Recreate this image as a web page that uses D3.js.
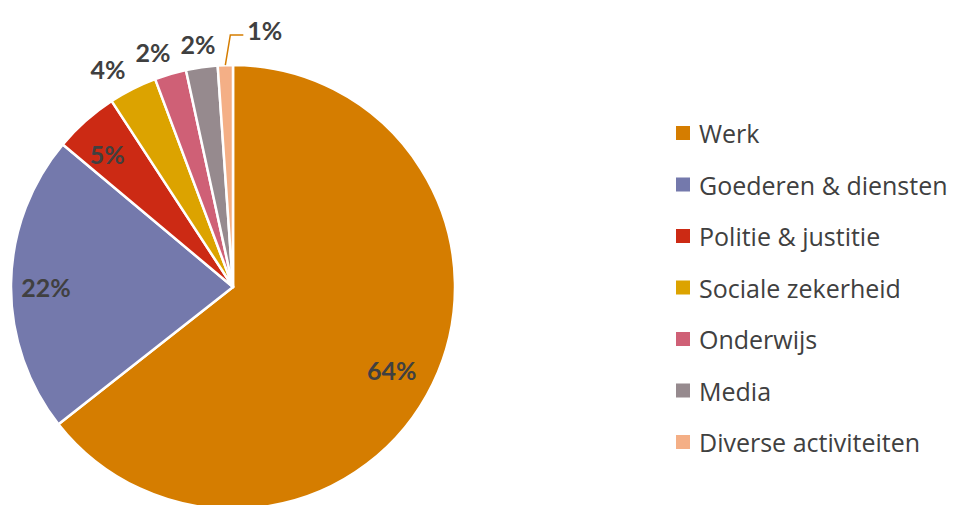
<!DOCTYPE html>
<html><head><meta charset="utf-8">
<script src="https://cdn.jsdelivr.net/npm/d3@7"></script>
<style>body{margin:0;background:#fff;} svg{display:block;} text{font-variant-ligatures:none;}</style>
</head><body>
<svg id="chart" width="956" height="505"></svg>
<script>
const categories = ["Werk","Goederen & diensten","Politie & justitie","Sociale zekerheid","Onderwijs","Media","Diverse activiteiten"];
const values = [64.4, 21.7, 4.7, 3.5, 2.3, 2.3, 1.1];
const labels = ["64%","22%","5%","4%","2%","2%","1%"];
const colors = ["#D57D00","#7479AC","#CC2A14","#DCA300","#CF6076","#968A8E","#F4AF86"];

const svg = d3.select("#chart");
const cx = 233, cy = 287, R = 222;
const g = svg.append("g").attr("transform", `translate(${cx},${cy})`);

const pie = d3.pie().sort(null).value(d => d)(values);
const arc = d3.arc().innerRadius(0).outerRadius(R);

g.selectAll("path.slice").data(pie).enter().append("path")
  .attr("class","slice")
  .attr("d", arc)
  .attr("fill", (d,i) => colors[i])
  .attr("stroke", "#fff").attr("stroke-width", 2.5).attr("stroke-linejoin","round");

const pct = v => v / d3.sum(values);
const mid = d => (d.startAngle + d.endAngle) / 2;
const lblFont = "Lato, 'Open Sans', sans-serif";

const inside = pie.filter(d => pct(d.value) >= 0.045);
const outside = pie.filter(d => pct(d.value) < 0.045);

inside.forEach(d => {
  const a = mid(d), r = R * 0.82;
  g.append("text")
    .attr("x", r * Math.sin(a) - 5).attr("y", -r * Math.cos(a) + 3)
    .attr("text-anchor","middle").attr("dominant-baseline","central")
    .attr("font-family", lblFont).attr("font-weight", 700).attr("font-size", 25)
    .attr("fill", "#404040").text(labels[d.index]);
});

const Ro = 248;
const outNodes = outside.map(d => {
  const a = mid(d);
  const t = g.append("text")
    .attr("text-anchor","middle").attr("dominant-baseline","central")
    .attr("font-family", lblFont).attr("font-weight", 700).attr("font-size", 25)
    .attr("fill", "#404040").text(labels[d.index]);
  const w = t.node().getComputedTextLength();
  return {d, a, t, w, x: Ro * Math.sin(a), y: -Ro * Math.cos(a) + 3};
});
const last = outNodes[outNodes.length - 1];
const prev = outNodes[outNodes.length - 2];
if (last && prev && last.x - last.w/2 < prev.x + prev.w/2 + 10) {
  const sx = R * Math.sin(last.a), sy = -R * Math.cos(last.a);
  const ky = -252, kx = sx + 5;
  const ex = kx + 13;
  g.append("polyline")
    .attr("points", `${sx},${sy} ${kx},${ky} ${ex},${ky}`)
    .attr("fill","none").attr("stroke", colors[0]).attr("stroke-width", 1.5);
  last.x = ex + 4 + last.w/2; last.y = -257;
}
for (let i = outNodes.length - 3; i >= 0; i--) {
  const n = outNodes[i], right = outNodes[i+1];
  const maxRight = right.x - right.w/2 - 10;
  if (n.x + n.w/2 > maxRight) n.x = maxRight - n.w/2;
}
outNodes.forEach(n => n.t.attr("x", n.x).attr("y", n.y));

const lg = svg.append("g").attr("transform","translate(676,133)");
const items = lg.selectAll("g").data(categories).enter().append("g")
  .attr("transform", (d,i) => `translate(0,${i*51.5})`);
items.append("rect").attr("x",0).attr("y",-7).attr("width",14).attr("height",14)
  .attr("fill",(d,i)=>colors[i]);
items.append("text").attr("x",23).attr("y",0).attr("dominant-baseline","central")
  .attr("font-family", "'Open Sans', sans-serif").attr("font-size", 25).attr("fill","#404040").text(d=>d);
</script>
</body></html>
